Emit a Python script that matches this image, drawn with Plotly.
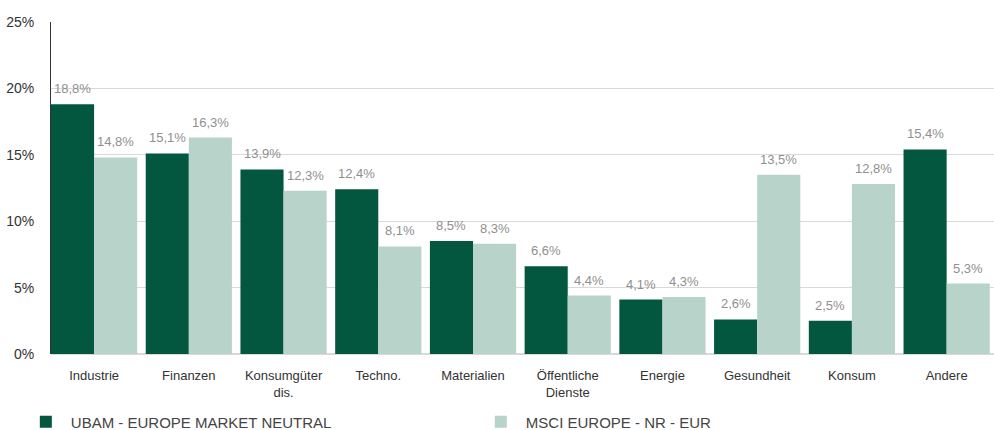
import plotly.graph_objects as go

categories = ["Industrie", "Finanzen", "Konsumgüter<br>dis.", "Techno.", "Materialien",
              "Öffentliche<br>Dienste", "Energie", "Gesundheit", "Konsum", "Andere"]
ubam = [18.8, 15.1, 13.9, 12.4, 8.5, 6.6, 4.1, 2.6, 2.5, 15.4]
msci = [14.8, 16.3, 12.3, 8.1, 8.3, 4.4, 4.3, 13.5, 12.8, 5.3]
series_names = ["UBAM - EUROPE MARKET NEUTRAL", "MSCI EUROPE - NR - EUR"]
y_ticks = [0, 5, 10, 15, 20, 25]
y_tick_labels = ["0%", "5%", "10%", "15%", "20%", "25%"]

DARK = "#03573f"
LIGHT = "#b8d3c9"
FONT = "Liberation Sans, Arial, sans-serif"
BARGAP = 0.09


def fmt(v):
    return f"{v:.1f}".replace(".", ",") + "%"


xs = list(range(len(categories)))
fig = go.Figure()
series = [(series_names[0], ubam, DARK), (series_names[1], msci, LIGHT)]
half = (1 - BARGAP) / 2
for k, (name, vals, col) in enumerate(series):
    fig.add_trace(go.Bar(
        x=xs, y=vals, name=name,
        marker=dict(color=col, line=dict(width=0)),
    ))
    offset = (k - 0.5) * half
    for i, v in zip(xs, vals):
        fig.add_annotation(x=i + offset, y=v, xref="x", yref="y", text=fmt(v),
                           showarrow=False, yanchor="bottom", yshift=6,
                           font=dict(color="#8f8f8f", size=13, family=FONT))

fig.update_layout(
    width=994, height=430,
    margin=dict(l=51, r=0, t=22, b=76, autoexpand=False),
    barmode="group", bargap=BARGAP, bargroupgap=0,
    plot_bgcolor="white", paper_bgcolor="white",
    font=dict(family=FONT, color="#333333", size=13),
    showlegend=True,
    legend=dict(orientation="h", x=-0.032, xanchor="left", y=-0.155, yanchor="top",
                entrywidth=400, entrywidthmode="pixels",
                font=dict(size=15, color="#444444", family=FONT),
                itemwidth=40),
    xaxis=dict(tickmode="array", tickvals=xs, ticktext=categories,
               range=[-0.455, 9.5], showgrid=False, zeroline=False, showline=False,
               ticks="", ticklabelstandoff=12, automargin=False,
               tickfont=dict(size=13, color="#333333")),
    yaxis=dict(range=[0, 25], tickmode="array", tickvals=y_ticks, ticktext=y_tick_labels,
               showgrid=True, gridcolor="#d9d9d9", gridwidth=1, zeroline=True,
               zerolinecolor="#d9d9d9", zerolinewidth=2,
               showline=True, linecolor="#333333", linewidth=1, automargin=False,
               ticks="", ticklabelstandoff=13, tickfont=dict(size=14, color="#333333")),
)

fig.write_html("out.html", config={"displayModeBar": False},
               post_script="document.body.style.margin='0';")
